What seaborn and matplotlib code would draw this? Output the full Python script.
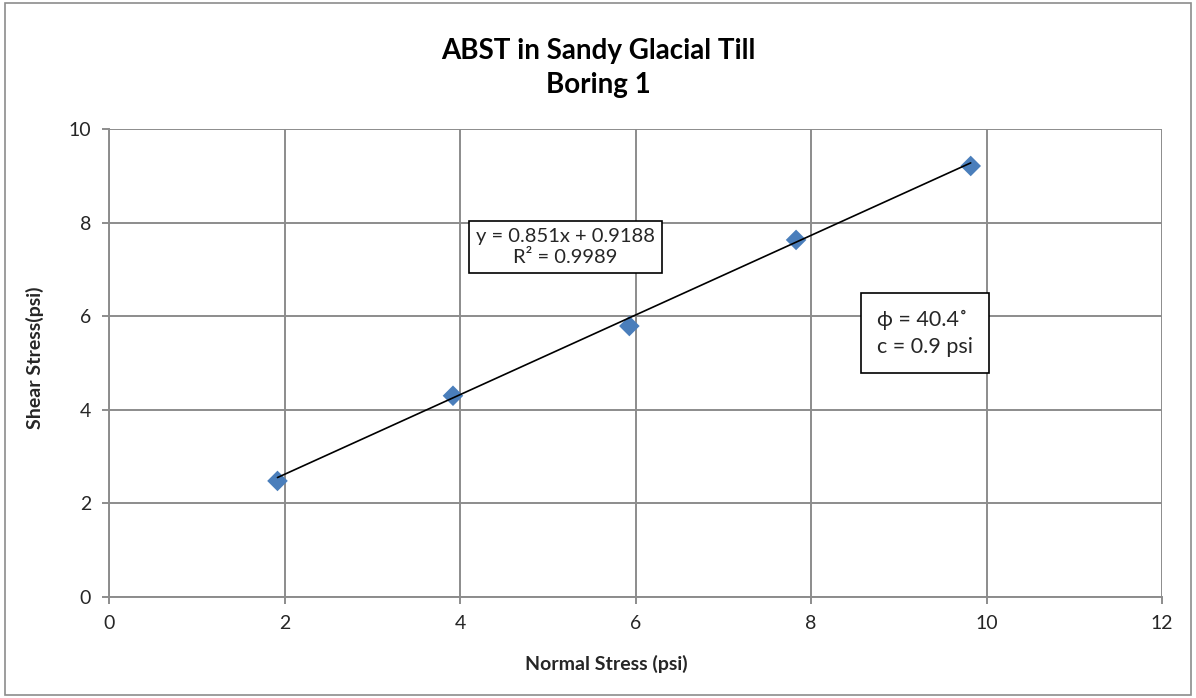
import numpy as np
import pandas as pd
import seaborn as sns
import matplotlib.pyplot as plt

# data
normal_stress = [1.92, 3.92, 5.93, 7.83, 9.82]
shear_stress = [2.48, 4.30, 5.79, 7.63, 9.21]
slope = 0.851
intercept = 0.9188
x_ticks = [0, 2, 4, 6, 8, 10, 12]
y_ticks = [0, 2, 4, 6, 8, 10]

df = pd.DataFrame({"normal": normal_stress, "shear": shear_stress})

sns.set_style("white")
plt.rcParams["font.family"] = ["Lato", "DejaVu Sans"]

fig = plt.figure(figsize=(11.96, 6.98), dpi=100)
ax = fig.add_axes([109 / 1196, 1 - 597 / 698, (1162 - 109) / 1196, (597 - 129) / 698])

# outer chart border
fig.patches.append(plt.Rectangle((0.004, 0.004), 0.992, 0.992, transform=fig.transFigure,
                                 fill=False, edgecolor="#8c8c8c", linewidth=1.2))

# trendline over the data range
xs = np.array([min(normal_stress), max(normal_stress)])
ax.plot(xs, slope * xs + intercept, color="black", linewidth=1.2, zorder=3)

sns.scatterplot(data=df, x="normal", y="shear", marker="D", s=110, color="#4a7ebb",
                edgecolor="none", ax=ax, zorder=2)

ax.set_xlim(0, 12)
ax.set_ylim(0, 10)
ax.set_xticks(x_ticks)
ax.set_yticks(y_ticks)
ax.grid(True, color="#8c8c8c", linewidth=1.4)
ax.set_axisbelow(True)
for s in ["top", "right"]:
    ax.spines[s].set_visible(False)
for s in ["left", "bottom"]:
    ax.spines[s].set_color("#8c8c8c")
    ax.spines[s].set_linewidth(1.4)
ax.tick_params(axis="both", direction="out", length=5, width=1.4, color="#8c8c8c",
               labelsize=14, pad=8, bottom=True, left=True)

ax.set_xlabel("Normal Stress (psi)", fontsize=14, fontweight="bold")
ax.set_ylabel("Shear Stress(psi)", fontsize=14, fontweight="bold")
ax.xaxis.set_label_coords(0.472, -0.123)
ax.yaxis.set_label_coords(-0.062, 0.511)

fig.text(0.5, 1 - 68 / 698, "ABST in Sandy Glacial Till\nBoring 1", ha="center", va="center",
         fontsize=20, fontweight="bold", linespacing=1.4, color="black")

ax.text(5.2, 7.48, "y = 0.851x + 0.9188\nR\u00b2 = 0.9989", ha="center", va="center",
        fontsize=14.5, linespacing=1.3,
        bbox=dict(boxstyle="square,pad=0.35", facecolor="white", edgecolor="black", linewidth=1.2))

ax.text(8.75, 5.64, "\u03d5 = 40.4\u02da\nc = 0.9 psi", ha="left", va="center",
        fontsize=15.5, linespacing=1.45,
        bbox=dict(boxstyle="square,pad=0.75", facecolor="white", edgecolor="black", linewidth=1.2))

fig.savefig("out.png", dpi=100)
